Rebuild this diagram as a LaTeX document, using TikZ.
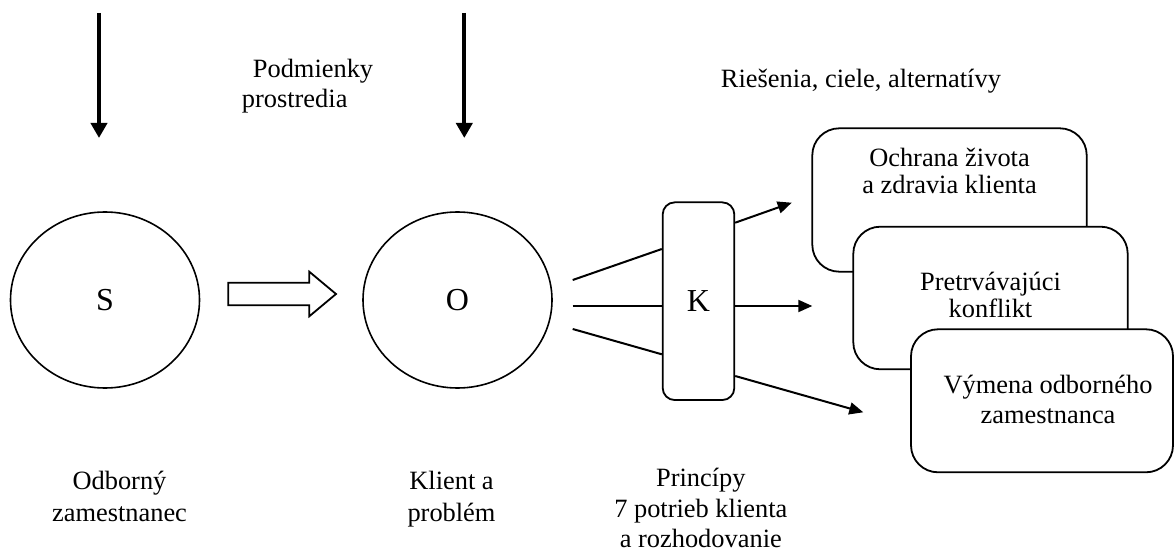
\documentclass[tikz,border=0pt]{standalone}
\usepackage{fontspec}
\setmainfont{Liberation Serif}
\usetikzlibrary{shapes.geometric,arrows.meta}
\tikzset{
  txt/.style={font=\fontsize{26.4}{31}\selectfont, inner sep=0pt, align=center, anchor=base},
  bigletter/.style={font=\fontsize{32}{36}\selectfont},
  circ/.style={ellipse, draw, line width=1.6pt, minimum width=189pt, minimum height=176pt, inner sep=0pt},
  kbox/.style={draw, line width=1.8pt, rounded corners=12pt, minimum width=71.6pt, minimum height=197.7pt, inner sep=0pt},
  resbox/.style={draw, line width=1.8pt, fill=white, rounded corners=27pt, inner sep=0pt},
  envarrow/.style={line width=3.8pt, -{Triangle[length=15pt,width=16pt]}},
  thinline/.style={line width=2pt},
  outarrow/.style={line width=2pt, -{Triangle[length=14pt,width=12pt]}},
  blockarrow/.style={draw, line width=1.8pt, fill=white, line join=miter}
}
\begin{document}
\begin{tikzpicture}[x=1pt,y=-1pt]
\useasboundingbox (0,0) rectangle (1175,553);
% environment arrows
\coordinate (e1s) at (99,13);
\coordinate (e1e) at (99,138);
\coordinate (e2s) at (464.3,13);
\coordinate (e2e) at (464.3,138);
\draw[envarrow] (e1s) -- (e1e);
\draw[envarrow] (e2s) -- (e2e);
\node[txt, align=left, anchor=base west, font=\fontsize{26.4}{30}\selectfont] (env) at (241.7,108) {\hspace{11pt}Podmienky\\prostredia};
\node[txt, anchor=base west] (res) at (720.7,88) {Riešenia, ciele, alternatívy};
% circles
\node[circ, bigletter] (S) at (105,300) {S};
\node[circ, bigletter] (O) at (457.5,300) {O};
% block arrow
\draw[blockarrow] (228.3,282.7) -- (309.3,282.7) -- (309.3,271.7) -- (336,294) -- (309.3,316.3) -- (309.3,305.3) -- (228.3,305.3) -- cycle;
% K box
\node[kbox, bigletter] (K) at (698.5,301.2) {K};
\coordinate (o1) at (572.7,280);
\coordinate (o2) at (572.7,306);
\coordinate (o3) at (572.7,329);
\coordinate (k1) at (K.west |- 0,249);
\coordinate (k2) at (K.west |- 0,306);
\coordinate (k3) at (K.west |- 0,354.3);
\draw[thinline] (o1) -- (k1);
\draw[thinline] (o2) -- (k2);
\draw[thinline] (o3) -- (k3);
\coordinate (q1) at (K.east |- 0,222.7);
\coordinate (q2) at (K.east |- 0,306);
\coordinate (q3) at (K.east |- 0,376);
\coordinate (t1) at (791.7,202.7);
\coordinate (t2) at (812.3,306);
\coordinate (t3) at (863.3,412.3);
\draw[outarrow] (q1) -- (t1);
\draw[outarrow] (q2) -- (t2);
\draw[outarrow] (q3) -- (t3);
% result boxes
\node[resbox, minimum width=274.4pt, minimum height=143.4pt] (b1) at (949.5,200) {};
\node[txt] (b1t) at (949.5,194) {Ochrana života\\[-3.5pt]a zdravia klienta};
\node[resbox, minimum width=274.4pt, minimum height=142.6pt] (b2) at (990.5,298) {};
\node[txt] (b2t) at (990.5,317) {Pretrvávajúci\\[-4pt]konflikt};
\node[resbox, minimum width=262pt, minimum height=143pt] (b3) at (1042,400.8) {};
\node[txt] (b3t) at (1048,423.3) {Výmena odborného\\[-1pt]zamestnanca};
% bottom labels
\node[txt, font=\fontsize{26.4}{32.5}\selectfont] (lS) at (119.5,521.7) {Odborný\\zamestnanec};
\node[txt, font=\fontsize{26.4}{32.5}\selectfont] (lO) at (451.5,521.7) {Klient a\\problém};
\node[txt, font=\fontsize{26.4}{30.5}\selectfont] (lK) at (700.8,547.5) {Princípy\\7 potrieb klienta\\a rozhodovanie};
\end{tikzpicture}
\end{document}
